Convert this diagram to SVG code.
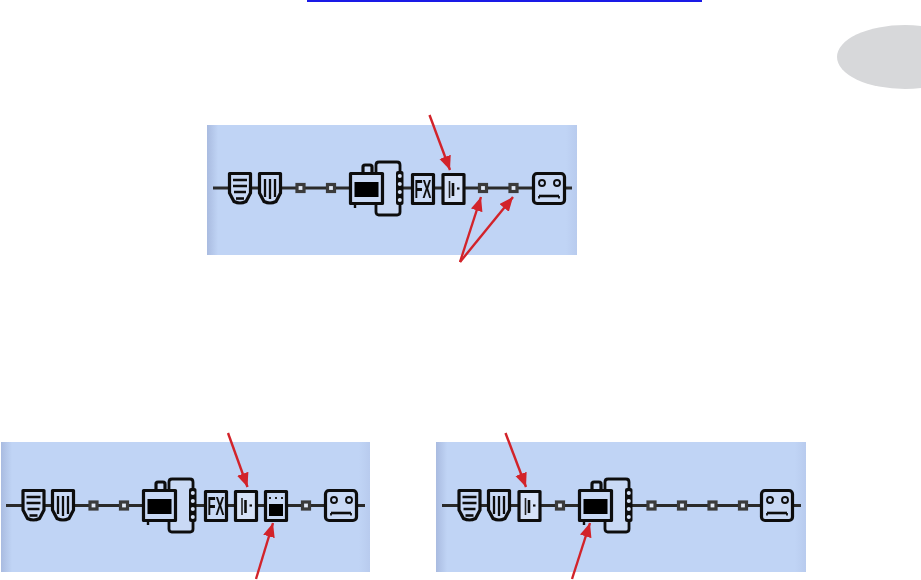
<svg xmlns="http://www.w3.org/2000/svg" width="921" height="580" viewBox="0 0 921 580">
<style>
.panel{fill:url(#pg)}
.wire{stroke:#2a2a2a;stroke-width:2.800;fill:none}
.o{fill:#c9d9f5;stroke:#111;stroke-width:3.200;stroke-linejoin:round}
.i{stroke:#111;stroke-width:2.300;fill:none}
.sq{fill:#e3eaf7;stroke:#3a3a3a;stroke-width:3.200}
.arrow{stroke:#d2232a;stroke-width:2.400;fill:none;marker-end:url(#ah)}
.soft{filter:url(#soft)}
</style>
<defs>
<linearGradient id="pg" x1="0" x2="1" y1="0" y2="0">
<stop offset="0" stop-color="#a9bbe0"/><stop offset="0.03" stop-color="#c0d4f5"/><stop offset="0.97" stop-color="#c0d4f5"/><stop offset="1" stop-color="#b8cbee"/>
</linearGradient>
<filter id="soft" x="-5%" y="-5%" width="110%" height="110%"><feGaussianBlur stdDeviation="0.5"/></filter>
<marker id="ah" markerUnits="userSpaceOnUse" markerWidth="16" markerHeight="13" refX="14" refY="6" orient="auto"><path d="M0 0L14 6L0 12Z" fill="#d2232a"/></marker>
<g id="shA"><path class="o" d="M1.500 1.500H22.500V21L18 29.500Q12 32.500 6 29.500L1.500 21Z"/><path class="i" d="M5 8H19M5 14H19M6 20H18"/><path d="M8 26.500H16" stroke="#111" stroke-width="2.600"/></g>
<g id="shB"><path class="o" d="M1.500 1.500H22.500V21L18 29.500Q12 32.500 6 29.500L1.500 21Z"/><path class="i" d="M7 7V25M12 7V27M17 7V25"/></g>
<g id="amp"><path class="o" d="M14 1V-5Q14-7 16-7H21Q23-7 23-5V1"/><rect class="o" x="1.500" y="1.500" width="32" height="30"/><rect x="5.500" y="10" width="24" height="15" fill="#000"/><path d="M6 32V36" stroke="#111" stroke-width="2.400"/></g>
<g id="loop"><path d="M0 0V-7Q0-10 3-10H21Q24-10 24-7V40Q24 43 21 43H3Q0 43 0 40V33" fill="#c9d9f5" stroke="#111" stroke-width="2.800"/><rect x="20" y="-1" width="7.500" height="34" rx="2" fill="#111"/><circle cx="23.800" cy="4" r="2" fill="#d5e0f5"/><circle cx="23.800" cy="12" r="2" fill="#d5e0f5"/><circle cx="23.800" cy="20" r="2" fill="#d5e0f5"/><circle cx="23.800" cy="28" r="2" fill="#d5e0f5"/></g>
<g id="fx"><rect class="o" x="1.500" y="1.500" width="21" height="29"/><text x="12" y="25" text-anchor="middle" font-family="Liberation Sans, sans-serif" font-weight="700" font-size="25" textLength="17" lengthAdjust="spacingAndGlyphs" fill="#111">FX</text></g>
<g id="dly"><rect class="o" x="1.500" y="1.500" width="21" height="29" style="fill:#d6e2f8"/><path d="M8 8V25" stroke="#222" stroke-width="1.600"/><path d="M11.500 10V23" stroke="#111" stroke-width="2.600"/><path d="M15.500 15.500H18" stroke="#111" stroke-width="2.200"/></g>
<g id="stomp"><rect class="o" x="1.500" y="1.500" width="21" height="29"/><path d="M5 8H19" stroke="#222" stroke-width="2" stroke-dasharray="2 4"/><rect x="5" y="14" width="14" height="12" fill="#000"/></g>
<g id="cab"><rect class="o" x="1.500" y="1.500" width="31" height="30" rx="3.500"/><circle cx="10" cy="11" r="3" fill="none" stroke="#111" stroke-width="1.900"/><circle cx="25" cy="11" r="3" fill="none" stroke="#111" stroke-width="1.900"/><path d="M7 24H27" stroke="#111" stroke-width="2.600"/><path d="M7 24V26.500M27 24V26.500" stroke="#111" stroke-width="1.800"/></g>
<rect id="sq" class="sq" x="-3.500" y="-3.500" width="7" height="7"/>
</defs>

<rect width="921" height="580" fill="#fff"/>
<g id="page-marks">
<rect x="307" y="0" width="395" height="2" fill="#1a1ae6"/>
<ellipse cx="905" cy="57" rx="68" ry="32" fill="#d7d8da"/>
</g>

<g id="panel-top">
<rect class="panel" x="207" y="125" width="370" height="130"/>
<g class="soft">
<path class="wire" d="M213 188H572"/>
<g id="p1-shield1"><use href="#shA" x="228" y="172"/></g>
<g id="p1-shield2"><use href="#shB" x="258" y="172"/></g>
<g id="p1-sq1"><use href="#sq" x="300.500" y="188"/></g>
<g id="p1-sq2"><use href="#sq" x="331" y="188"/></g>
<g id="p1-loop"><use href="#loop" x="376" y="172"/></g>
<g id="p1-amp"><use href="#amp" x="349" y="172"/></g>
<g id="p1-fx"><use href="#fx" x="411" y="173"/></g>
<g id="p1-delay"><use href="#dly" x="441.500" y="173"/></g>
<g id="p1-sq3"><use href="#sq" x="483" y="188"/></g>
<g id="p1-sq4"><use href="#sq" x="513.500" y="188"/></g>
<g id="p1-cab"><use href="#cab" x="532" y="172"/></g>
</g>
</g>

<g id="panel-left">
<rect class="panel" x="1" y="442" width="369" height="130"/>
<g class="soft">
<path class="wire" d="M6 505.500H365"/>
<g id="p2-shield1"><use href="#shA" x="21.500" y="489"/></g>
<g id="p2-shield2"><use href="#shB" x="51" y="489"/></g>
<g id="p2-sq1"><use href="#sq" x="93.500" y="505.500"/></g>
<g id="p2-sq2"><use href="#sq" x="124" y="505.500"/></g>
<g id="p2-loop"><use href="#loop" x="169" y="489"/></g>
<g id="p2-amp"><use href="#amp" x="142" y="489"/></g>
<g id="p2-fx"><use href="#fx" x="204" y="490"/></g>
<g id="p2-delay"><use href="#dly" x="234" y="490"/></g>
<g id="p2-stomp"><use href="#stomp" x="264" y="490"/></g>
<g id="p2-sq3"><use href="#sq" x="306" y="505.500"/></g>
<g id="p2-cab"><use href="#cab" x="324" y="489"/></g>
</g>
</g>

<g id="panel-right">
<rect class="panel" x="436" y="442" width="370" height="130"/>
<g class="soft">
<path class="wire" d="M442 505.500H801"/>
<g id="p3-shield1"><use href="#shA" x="457.500" y="489"/></g>
<g id="p3-shield2"><use href="#shB" x="487" y="489"/></g>
<g id="p3-delay"><use href="#dly" x="517.500" y="490"/></g>
<g id="p3-sq1"><use href="#sq" x="560" y="505.500"/></g>
<g id="p3-loop"><use href="#loop" x="605" y="489"/></g>
<g id="p3-amp"><use href="#amp" x="578" y="489"/></g>
<g id="p3-sq2"><use href="#sq" x="651.500" y="505.500"/></g>
<g id="p3-sq3"><use href="#sq" x="682" y="505.500"/></g>
<g id="p3-sq4"><use href="#sq" x="712.500" y="505.500"/></g>
<g id="p3-sq5"><use href="#sq" x="743" y="505.500"/></g>
<g id="p3-cab"><use href="#cab" x="760" y="489"/></g>
</g>
</g>

<g id="connectors">
<path class="arrow" d="M429.500 115L450 170"/>
<path class="arrow" d="M460 262L481 197"/>
<path class="arrow" d="M460 262L513 197"/>
<path class="arrow" d="M228 433L247.500 487"/>
<path class="arrow" d="M256 579L273 523"/>
<path class="arrow" d="M505.500 433L526 487"/>
<path class="arrow" d="M572 579L590 523"/>
</g>
</svg>
